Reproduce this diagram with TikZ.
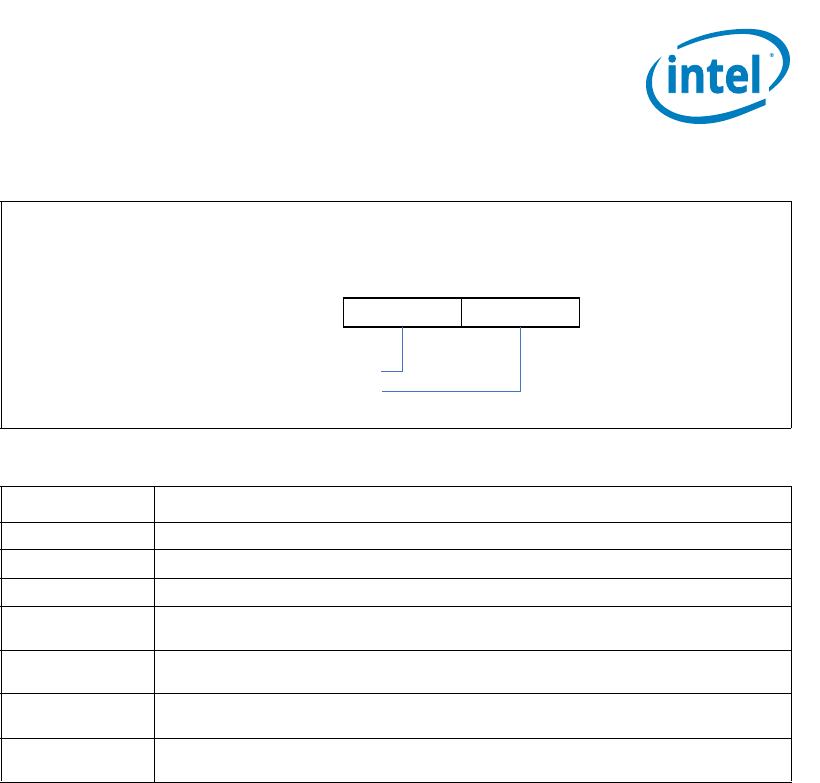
\documentclass[tikz,border=0pt]{standalone}
\usepackage{fontspec}
\setmainfont{Open Sans}
\definecolor{intelblue}{RGB}{0,125,190}
\definecolor{leaderblue}{RGB}{68,114,196}
\tikzset{
  rule/.style={line width=1.1pt,black},
  leader/.style={line width=1pt,leaderblue},
  fieldbox/.style={draw=black,line width=1.1pt,minimum width=118pt,minimum height=29pt,inner sep=0pt,outer sep=0pt},
  logotext/.style={inner sep=0pt,text=intelblue,anchor=base west}
}
\begin{document}
\begin{tikzpicture}[x=1pt,y=-1pt]
\useasboundingbox (0,0) rectangle (820,783);
% logo swoosh
\fill[intelblue] (677.3,46) .. controls (700,33) and (730,28) .. (752,29)
  .. controls (775,30) and (790,44) .. (790,60)
  .. controls (790,73) and (779,84) .. (769,91.7)
  -- (769,87.5) .. controls (776,80) and (783,72) .. (783,62)
  .. controls (783,47) and (766,34.5) .. (745,34)
  .. controls (725,33.5) and (700,39) .. (677.3,49.5) -- cycle;
\fill[intelblue] (661.7,56.5) .. controls (650,66) and (645.5,76) .. (646,86)
  .. controls (647,108) and (670,124) .. (700,124)
  .. controls (725,124) and (745,113) .. (765.7,105)
  -- (765.7,98.5) .. controls (745,107) and (722,116.5) .. (696,116.7)
  .. controls (672,116.5) and (653,104) .. (652,84)
  .. controls (651.5,74) and (655,66) .. (661.7,56.5) -- cycle;
% logo word
\node[logotext] (word) at (665.5,92.7) {\scalebox{1.08}[1.27]{\fontsize{39}{39}\selectfont\bfseries\addfontfeature{FakeBold=1.6}intel}};
\node[logotext] (reg) at (769.5,57.5) {\fontsize{5.5}{5.5}\selectfont\bfseries ®};
% top frame
\draw[rule] (0,201.5) -- (791,201.5);
\draw[rule] (1.3,201.5) -- (1.3,428.5);
\draw[rule] (791.3,201.5) -- (791.3,428.5);
\draw[rule] (0,428.5) -- (791,428.5);
% field boxes
\node[fieldbox] (hi) at (402.7,312.5) {};
\node[fieldbox] (lo) at (520.7,312.5) {};
\coordinate (hiend) at (381,371.5);
\coordinate (loend) at (381.5,391.5);
\draw[leader] (hi.south) |- (hiend);
\draw[leader] (lo.south) |- (loend);
% table
\foreach \yy in {486.3,522.3,549.3,578.3,606.3,650.3,693.3,738.3,782.3}
  \draw[rule] (0,\yy) -- (791.6,\yy);
\draw[rule] (1.3,486.3) -- (1.3,781);
\draw[rule] (154.5,486.3) -- (154.5,782.3);
\draw[rule] (791.3,486.3) -- (791.3,781);
\end{tikzpicture}
\end{document}
